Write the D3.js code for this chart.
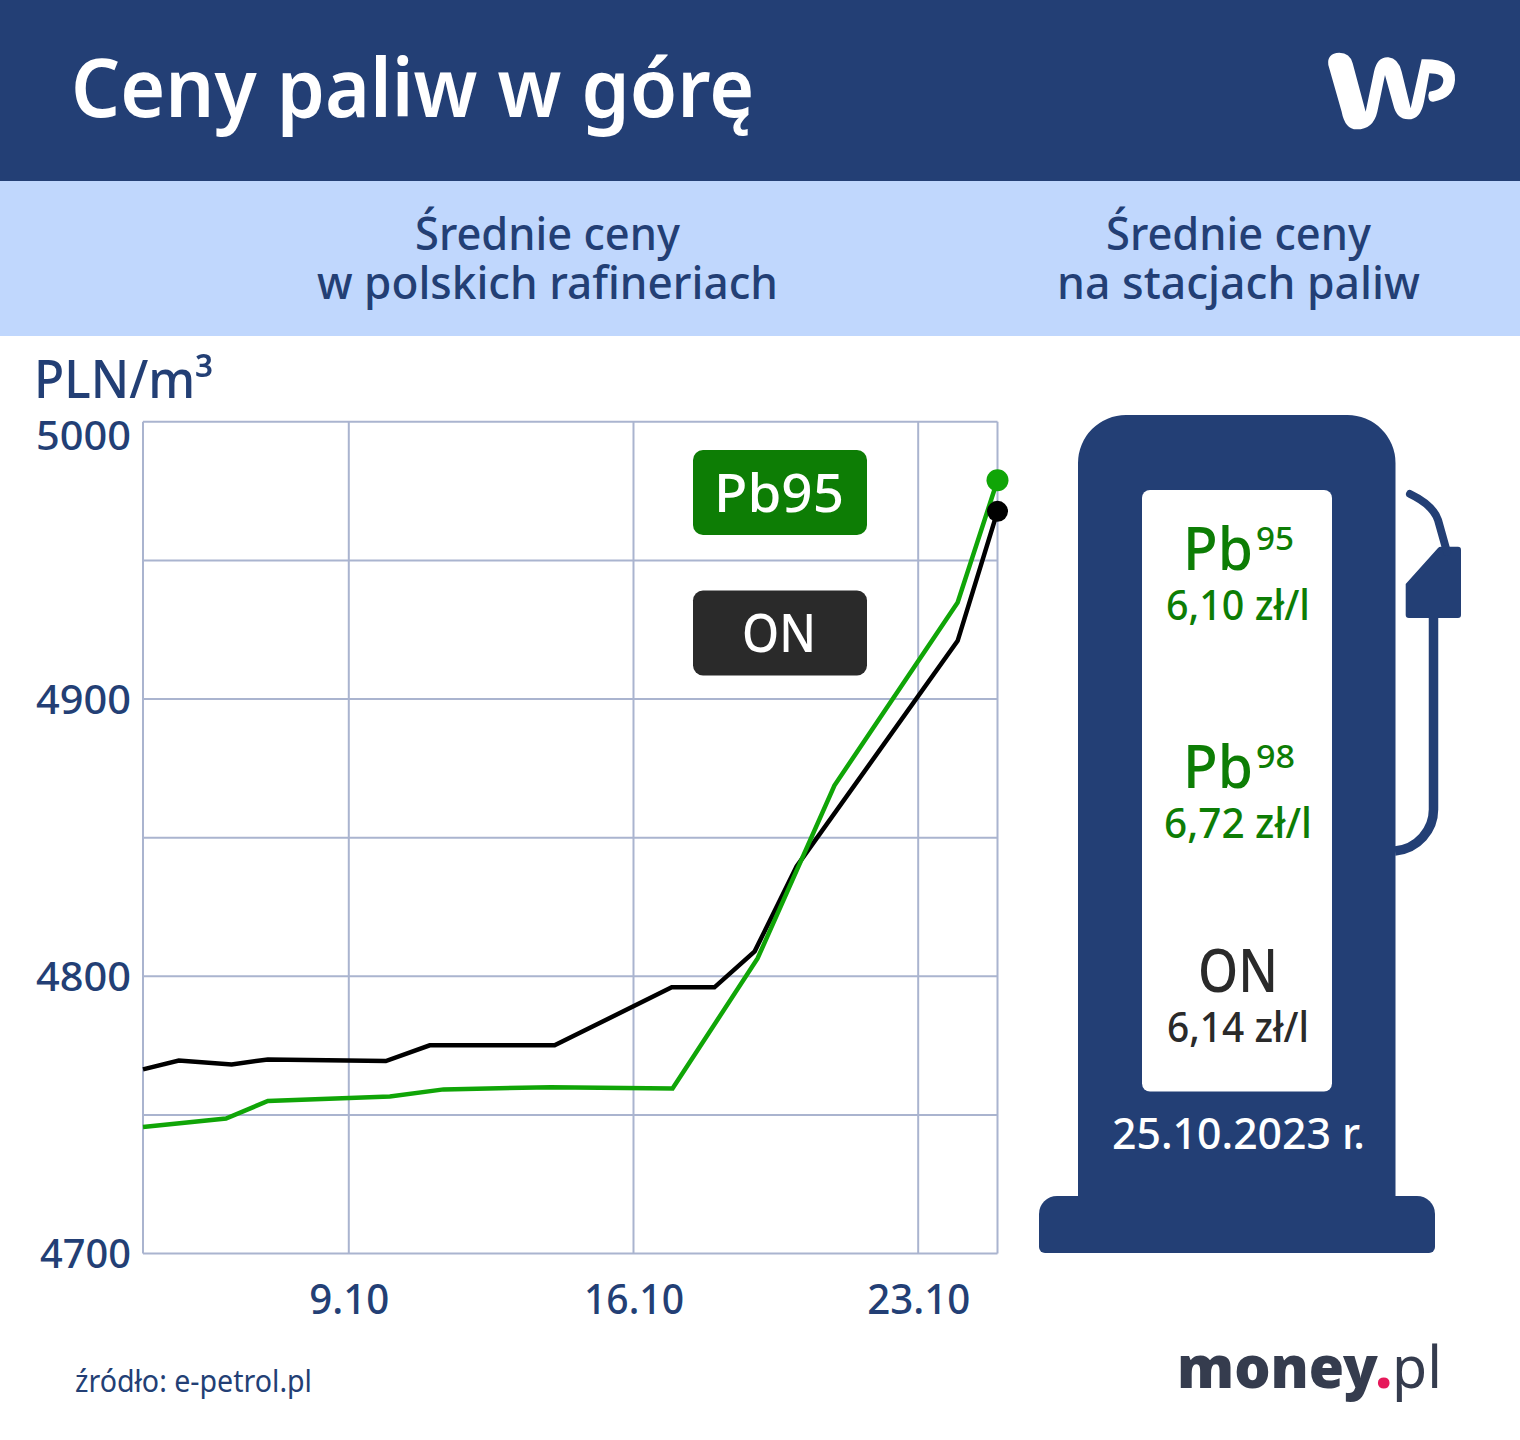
<!DOCTYPE html>
<html lang="pl"><head><meta charset="utf-8">
<script src="https://cdn.jsdelivr.net/npm/d3@7/dist/d3.min.js"></script>
<style>html,body{margin:0;padding:0;background:#fff}svg{display:block}text{font-family:"Noto Sans",sans-serif}</style>
</head><body><svg id="c" width="1520" height="1440" viewBox="0 0 1520 1440"></svg>
<script>
// Data (day of October, PLN/m3)
const onDays   = [3.94,4.82,6.12,7.01,9.91,10.99,14.06,16.94,17.99,18.98,20.01,23.97,24.95];
const onValues = [4766.4,4769.6,4768.2,4770,4769.4,4775.1,4775.1,4796,4796,4809,4839.6,4921,4967.7];
const pbDays   = [3.94,5.98,7.01,10.01,11.33,13.96,16.96,19.05,20.94,23.97,24.95];
const pbValues = [4745.6,4748.7,4755,4756.6,4759.2,4760,4759.5,4806.4,4868.8,4934.8,4978.9];
const yTicks = [4700,4800,4900,5000];
const yGrid = [4700,4750,4800,4850,4900,4950,5000];
const xTicks = [9,16,23];
const xLabels = ["9.10","16.10","23.10"];

const NAVY="#233f75", GREEN="#0d7d05", LINE_GREEN="#10a507", DARK="#2a2a2a", GRID="#aab4cf";
const svg=d3.select("#c");
function T(x,y,s,size,len,fill,weight,anchor){
  return svg.append("text").attr("x",x).attr("y",y).text(s).attr("font-size",size)
    .attr("fill",fill||NAVY).attr("font-weight",weight||500).attr("text-anchor",anchor||"start")
    .attr("textLength",len).attr("lengthAdjust","spacingAndGlyphs");
}
// Bands
svg.append("rect").attr("width",1520).attr("height",181).attr("fill",NAVY);
svg.append("rect").attr("y",181).attr("width",1520).attr("height",155).attr("fill","#c0d7fd");
T(71,117,"Ceny paliw w górę",82,683,"#fff",600);
T(415,250,"Średnie ceny",46,265);
T(317,299,"w polskich rafineriach",46,461);
T(1106,250,"Średnie ceny",46,265);
T(1057,299,"na stacjach paliw",46,363);
T(34,398,"PLN/m³",52,179);

// WP logo
svg.append("path").attr("transform","translate(1300,30) scale(0.3333)").attr("fill","#fff")
  .attr("d","M85,105 Q80,70 118,68 Q150,68 158,100 L197,245 L222,125 Q232,80 265,82 Q295,85 305,125 L332,235 L365,88 Q470,85 465,150 Q462,205 400,215 Q385,217 385,195 L388,185 Q430,180 430,150 Q428,130 388,130 L372,215 Q362,268 325,268 Q290,268 280,225 L255,135 L232,245 Q220,298 170,298 Q135,298 125,245 Z");

// Chart
const x=d3.scaleLinear().domain([3.94,24.95]).range([143,997.5]);
const y=d3.scaleLinear().domain([4700,5000]).range([1253.5,421.8]);
const grid=svg.append("g").attr("stroke",GRID).attr("stroke-width",2);
grid.selectAll("line.h").data(yGrid).join("line").attr("class","h").attr("x1",x.range()[0]).attr("x2",x.range()[1]).attr("y1",y).attr("y2",y);
grid.selectAll("line.v").data([3.94,...xTicks,24.95]).join("line").attr("class","v").attr("x1",x).attr("x2",x).attr("y1",y.range()[1]).attr("y2",y.range()[0]);

const xAxis=svg.append("g").attr("transform","translate(0,1253)")
  .call(d3.axisBottom(x).tickValues(xTicks).tickFormat((d,i)=>xLabels[i]).tickSize(0).tickPadding(0));
xAxis.select(".domain").remove();
xAxis.selectAll("text").attr("y",61).attr("dy",0).attr("font-size",42).attr("font-weight",500).attr("fill",NAVY)
  .attr("textLength",(d,i)=>[80,100,103][i]).attr("lengthAdjust","spacingAndGlyphs");
const yAxis=svg.append("g").attr("transform","translate(131,0)")
  .call(d3.axisLeft(y).tickValues(yTicks).tickFormat(d3.format("d")).tickSize(0).tickPadding(0));
yAxis.select(".domain").remove();
yAxis.selectAll("text").attr("x",0).attr("dy",0).attr("font-size",40).attr("font-weight",500).attr("fill",NAVY)
  .attr("y",d=>d===5000?28:14).attr("textLength",d=>d===4700?91:95).attr("lengthAdjust","spacingAndGlyphs");

const line=d3.line().x(d=>x(d[0])).y(d=>y(d[1]));
const onData=d3.zip(onDays,onValues), pbData=d3.zip(pbDays,pbValues);
svg.append("path").attr("d",line(onData)).attr("fill","none").attr("stroke","#000").attr("stroke-width",4.5);
svg.append("path").attr("d",line(pbData)).attr("fill","none").attr("stroke",LINE_GREEN).attr("stroke-width",4.5);
svg.append("circle").attr("cx",x(onDays.at(-1))).attr("cy",y(onValues.at(-1))).attr("r",10.5).attr("fill","#000");
svg.append("circle").attr("cx",x(pbDays.at(-1))).attr("cy",y(pbValues.at(-1))).attr("r",11).attr("fill",LINE_GREEN);

// Legend
svg.append("rect").attr("x",693).attr("y",450).attr("width",174).attr("height",85).attr("rx",10).attr("fill",GREEN);
svg.append("rect").attr("x",693).attr("y",590.5).attr("width",174).attr("height",85).attr("rx",10).attr("fill",DARK);
T(714,512,"Pb95",52,130,"#fff");
T(742,652,"ON",52,74,"#fff");

// Pump
const pump=svg.append("g").attr("fill",NAVY);
pump.append("path").attr("d","M1078,1253 V463 A48,48 0 0 1 1126,415 H1347 A48,48 0 0 1 1395.5,463 V1253 Z");
pump.append("path").attr("d","M1039,1247 V1214 A18,18 0 0 1 1057,1196 H1417 A18,18 0 0 1 1435,1214 V1247 A6,6 0 0 1 1429,1253 H1045 A6,6 0 0 1 1039,1247 Z");
pump.append("path").attr("d","M1405.7,584 L1438,548 Q1439,546.7 1441,546.7 H1458 Q1461,546.7 1461,550 V615 Q1461,618 1458,618 H1409 Q1405.7,618 1405.7,615 Z");
const hose=svg.append("g").attr("fill","none").attr("stroke",NAVY).attr("stroke-width",9.5).attr("stroke-linecap","round");
hose.append("path").attr("stroke-linecap","butt").attr("d","M1433.5,615 V808 A42,42 0 0 1 1395,851");
hose.append("path").attr("stroke-width",8).attr("d","M1410,494 Q1433,505 1438,520 L1447,552");
svg.append("rect").attr("x",1142).attr("y",490).attr("width",190).attr("height",601.5).attr("rx",8).attr("fill","#fff");

T(1183,570,"Pb",60,70,GREEN);
T(1256,550,"95",32,38,GREEN);
T(1166,620,"6,10 zł/l",42,144,GREEN);
T(1183,788,"Pb",60,70,GREEN);
T(1256,768,"98",32,39,GREEN);
T(1164,838,"6,72 zł/l",42,148,GREEN);
T(1198,992,"ON",60,80,DARK);
T(1167,1042,"6,14 zł/l",42,142,DARK);
T(1112,1149,"25.10.2023 r.",44,253,"#fff");

// Footer
T(75,1392,"źródło: e-petrol.pl",30,237,NAVY,400);
const W="#353c4e";
const logoText=svg.append("text").attr("x",1177).attr("y",1388).attr("font-size",58).attr("font-family","Lato")
  .attr("textLength",265).attr("lengthAdjust","spacingAndGlyphs").attr("fill",W);
logoText.append("tspan").attr("font-weight",900).text("money");
logoText.append("tspan").attr("font-weight",900).attr("fill","#e6195a").text(".");
logoText.append("tspan").attr("font-weight",400).text("pl");
</script></body></html>
